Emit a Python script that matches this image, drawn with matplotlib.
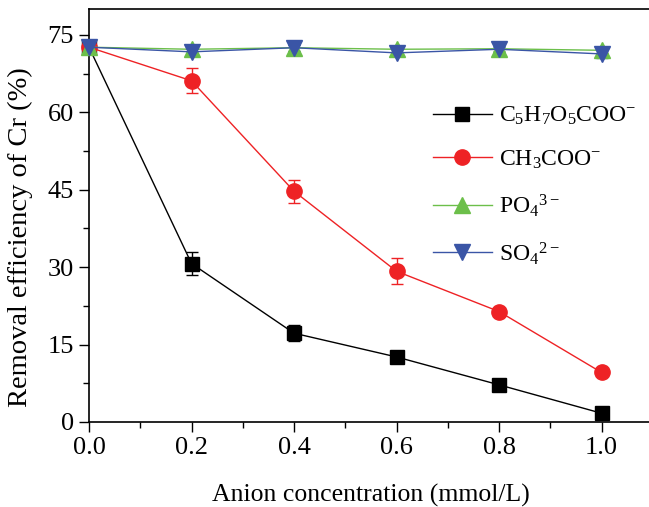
import matplotlib
matplotlib.use("Agg")
import matplotlib.pyplot as plt
from matplotlib.ticker import MultipleLocator
from matplotlib.lines import Line2D

plt.rcParams['font.family'] = ['Liberation Serif', 'DejaVu Serif']
plt.rcParams['mathtext.fontset'] = 'custom'
plt.rcParams['mathtext.rm'] = 'Liberation Serif'
plt.rcParams['mathtext.it'] = 'Liberation Serif'

conc = [0.0, 0.2, 0.4, 0.6, 0.8, 1.0]
c5 = [72.6, 30.7, 17.2, 12.6, 7.2, 1.7]
c5_err = [0.5, 2.3, 1.5, 0.8, 0.4, 0.3]
ch3 = [72.6, 66.1, 44.7, 29.2, 21.4, 9.6]
ch3_err = [0.5, 2.4, 2.2, 2.5, 0.6, 0.5]
po4 = [72.6, 72.2, 72.5, 72.2, 72.3, 72.0]
po4_err = [0.5, 0.7, 0.6, 0.7, 0.5, 0.6]
so4 = [72.6, 71.7, 72.5, 71.5, 72.2, 71.3]
so4_err = [0.5, 0.7, 0.6, 0.7, 0.5, 0.7]

labels = [r'$\mathregular{C_5H_7O_5COO^{-}}$', r'$\mathregular{CH_3COO^{-}}$',
          r'$\mathregular{PO_4{}^{3-}}$', r'$\mathregular{SO_4{}^{2-}}$']

fig = plt.figure(figsize=(6.49, 5.07), dpi=100)
ax = fig.add_axes([89/649, 1-422/507, (652.75-89)/649, (422-9)/507])

series = [
    (c5, c5_err, 'black', 's', 9.5),
    (ch3, ch3_err, '#ee2225', 'o', 11),
    (po4, po4_err, '#6cbf4a', '^', 11),
    (so4, so4_err, '#3a55a6', 'v', 11),
]
handles = []
for (y, e, col, m, ms), lab in zip(series, labels):
    ax.errorbar(conc, y, yerr=e, color=col, marker=m, markersize=ms,
                linewidth=1, elinewidth=1, capsize=4, capthick=1,
                markeredgecolor=col, clip_on=False, zorder=3)
    handles.append(Line2D([], [], color=col, marker=m, markersize=ms,
                          linewidth=1, markeredgecolor=col, label=lab))

ax.set_xlim(0, 1.1)
ax.set_ylim(0, 80)
ax.xaxis.set_minor_locator(MultipleLocator(0.1))
ax.yaxis.set_major_locator(MultipleLocator(15))
ax.yaxis.set_minor_locator(MultipleLocator(7.5))
ax.set_xticks(conc)
ax.set_xticklabels(['0.0', '0.2', '0.4', '0.6', '0.8', '1.0'])
ax.tick_params(which='major', direction='out', length=7, width=1, labelsize=19, top=False, right=False, pad=4)
ax.tick_params(which='minor', direction='out', length=4, width=1, top=False, right=False)
for s in ax.spines.values():
    s.set_linewidth(1.2)

ax.set_xlabel('Anion concentration (mmol/L)', fontsize=18.5, labelpad=18)
ax.set_ylabel('Removal efficiency of Cr (%)', fontsize=20.5)
ax.yaxis.set_label_coords(-0.099, 0.448)

leg = ax.legend(handles=handles, loc='upper left', bbox_to_anchor=(0.593, 0.79), frameon=False,
                fontsize=17, handlelength=2.5, handletextpad=0.3, labelspacing=0.9,
                borderaxespad=0)

fig.savefig('out.png', dpi=100)
